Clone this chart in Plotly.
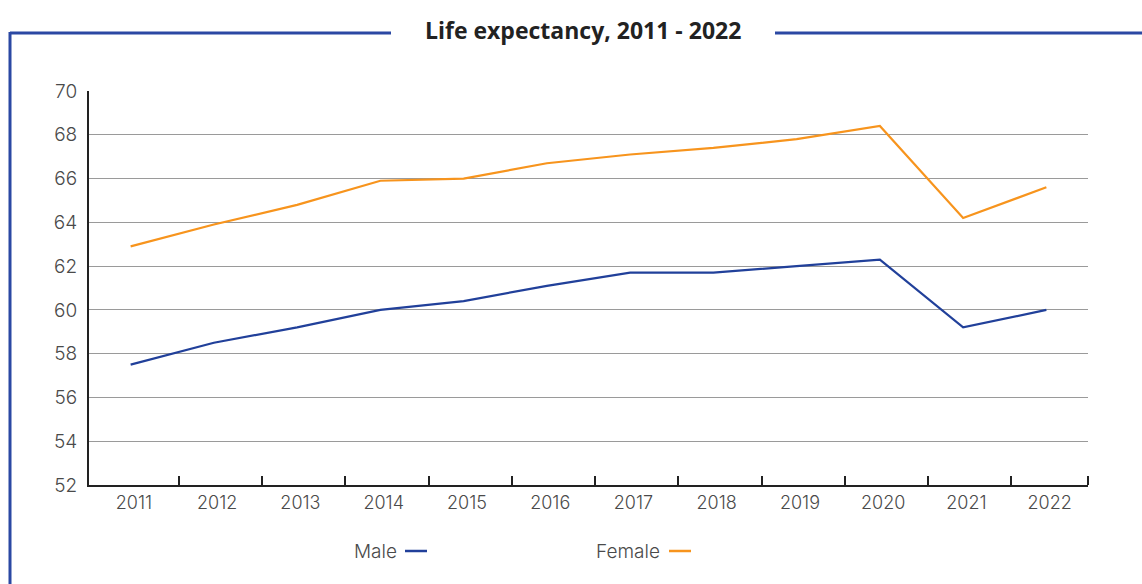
import plotly.graph_objects as go

years = [2011, 2012, 2013, 2014, 2015, 2016, 2017, 2018, 2019, 2020, 2021, 2022]
year_labels = ["2011", "2012", "2013", "2014", "2015", "2016", "2017", "2018", "2019", "2020", "2021", "2022"]
male = [57.5, 58.5, 59.2, 60.0, 60.4, 61.1, 61.7, 61.7, 62.0, 62.3, 59.2, 60.0]
female = [62.9, 63.9, 64.8, 65.9, 66.0, 66.7, 67.1, 67.4, 67.8, 68.4, 64.2, 65.6]
y_ticks = [52, 54, 56, 58, 60, 62, 64, 66, 68, 70]

MALE_C = "#21409a"
FEMALE_C = "#f7941d"
FRAME_C = "#2b48a3"
TXT = "#4a4a4a"
FONT = "Inter, Lato, 'Open Sans', sans-serif"

fig = go.Figure()
fig.add_trace(go.Scatter(x=years, y=male, mode="lines", name="Male",
                         line=dict(color=MALE_C, width=2.2), showlegend=False))
fig.add_trace(go.Scatter(x=years, y=female, mode="lines", name="Female",
                         line=dict(color=FEMALE_C, width=2.2), showlegend=False))

W, H = 1142, 584
L, R, T, B = 89, 54, 91, 99
PW, PH = W - L - R, H - T - B

def fx(p):
    return (p - L) / PW

def fy(p):
    return 1 - (p - T) / PH

label_pos = [y + 0.04 for y in years]
tick_pos = [y + 0.58 for y in years[:-1]] + [years[-1] + 0.5]

fig.update_layout(
    width=W, height=H,
    margin=dict(l=L, r=R, t=T, b=B),
    paper_bgcolor="white", plot_bgcolor="white",
    font=dict(family=FONT, color=TXT, size=17, weight=300),
    xaxis=dict(range=[years[0] - 0.5, years[-1] + 0.5], tickmode="array",
               tickvals=label_pos, ticktext=year_labels, ticks="",
               showline=True, linecolor="#222", linewidth=2, showgrid=False,
               zeroline=False,
               tickfont=dict(size=18, color=TXT, weight=300), ticklabelstandoff=0,
               minor=dict(tickmode="array", tickvals=tick_pos, ticks="inside",
                          ticklen=9, tickwidth=2, tickcolor="#222", showgrid=False)),
    yaxis=dict(range=[52, 70], tickvals=y_ticks, showgrid=True, gridcolor="#9a9a9a",
               gridwidth=1, showline=True, linecolor="#222", linewidth=2,
               ticks="", tickfont=dict(size=19, color=TXT, weight=300), zeroline=False,
               ticklabelstandoff=6),
)

shapes = [
    dict(type="line", xref="paper", yref="paper", x0=fx(10), x1=fx(391),
         y0=fy(33), y1=fy(33), line=dict(color=FRAME_C, width=3)),
    dict(type="line", xref="paper", yref="paper", x0=fx(775), x1=fx(1142),
         y0=fy(33), y1=fy(33), line=dict(color=FRAME_C, width=3)),
    dict(type="line", xref="paper", yref="paper", x0=fx(10), x1=fx(10),
         y0=fy(32), y1=fy(590), line=dict(color=FRAME_C, width=3)),
    dict(type="line", xref="paper", yref="paper", x0=fx(405), x1=fx(427),
         y0=fy(551), y1=fy(551), line=dict(color=MALE_C, width=2.5)),
    dict(type="line", xref="paper", yref="paper", x0=fx(669), x1=fx(691),
         y0=fy(551), y1=fy(551), line=dict(color=FEMALE_C, width=2.5)),
]
fig.update_layout(shapes=shapes)

annotations = [
    dict(text="<b>Life expectancy, 2011 - 2022</b>", xref="paper", yref="paper",
         x=fx(583), y=fy(30), xanchor="center", yanchor="middle",
         showarrow=False, font=dict(family="'Open Sans', sans-serif", size=23, color="#222")),
    dict(text="Male", xref="paper", yref="paper",
         x=fx(399), y=fy(551), xanchor="right", yanchor="middle",
         showarrow=False, font=dict(size=19, color=TXT, weight=300)),
    dict(text="Female", xref="paper", yref="paper",
         x=fx(662), y=fy(551), xanchor="right", yanchor="middle",
         showarrow=False, font=dict(size=19, color=TXT, weight=300)),
]
fig.update_layout(annotations=annotations)

fig.write_html("out.html", config={"displayModeBar": False},
               post_script="document.body.style.margin='0';document.body.style.padding='0';")
